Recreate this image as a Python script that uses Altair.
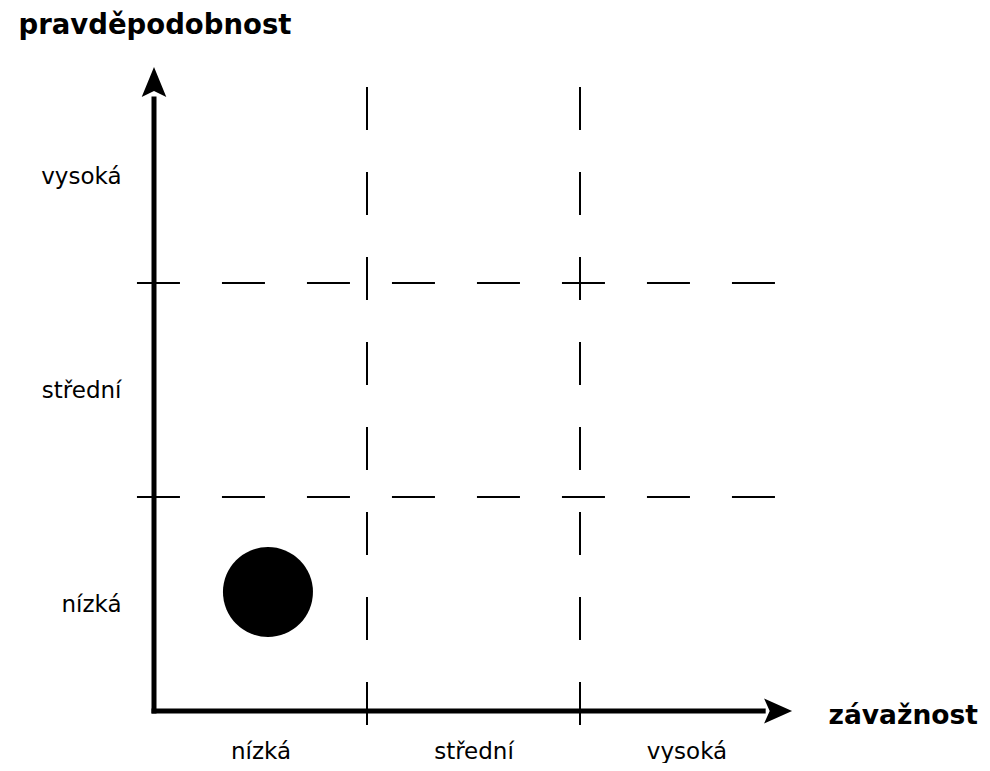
import altair as alt
import pandas as pd

# --- data -------------------------------------------------------------
levels = ["nízká", "střední", "vysoká"]          # category labels (both axes)
level_centers = [0.5, 1.5, 2.5]                   # category centres on the axes
boundaries = [1, 2]                               # borders between categories
risk_x = [0.535]                                  # závažnost of the assessed risk
risk_y = [0.556]                                  # pravděpodobnost of the assessed risk
x_title = "závažnost"
y_title = "pravděpodobnost"

FONT = "DejaVu Sans"
DOM = [0, 3]
xs = alt.Scale(domain=DOM, nice=False, zero=False)
ys = alt.Scale(domain=DOM, nice=False, zero=False)

label_expr = "[" + ",".join("'%s'" % l for l in levels) + "][floor(datum.value)]"

xa = alt.Axis(
    values=level_centers, labelExpr=label_expr, grid=False, ticks=False,
    tickSize=0, domain=False, labelFont=FONT, labelFontSize=23,
    labelColor="black", labelBaseline="top", labelPadding=29,
    title=x_title, titleFont=FONT, titleFontSize=26.5, titleFontWeight="bold",
    titleColor="black", titleAngle=0, titleAlign="left",
    titleBaseline="alphabetic", titleX=674, titleY=12)
ya = alt.Axis(
    values=level_centers, labelExpr=label_expr, grid=False, ticks=False,
    tickSize=0, domain=False, labelFont=FONT, labelFontSize=23,
    labelColor="black", labelAlign="right", labelBaseline="middle",
    labelPadding=33,
    title=y_title, titleFont=FONT, titleFontSize=27.5, titleFontWeight="bold",
    titleColor="black", titleAngle=0, titleAlign="left",
    titleBaseline="alphabetic", titleX=-136, titleY=-36)

bounds = pd.DataFrame({"b": boundaries})
risk = pd.DataFrame({"x": risk_x, "y": risk_y})
single = pd.DataFrame({"k": [0]})

# risk point
point = alt.Chart(risk).mark_point(
    shape="circle", filled=True, color="black", opacity=1, size=8100
).encode(
    x=alt.X("x:Q", scale=xs, axis=xa),
    y=alt.Y("y:Q", scale=ys, axis=ya),
)

# dashed borders between categories
vlines = alt.Chart(bounds).mark_rule(
    color="black", strokeWidth=2, strokeDash=[43, 42]
).encode(
    x=alt.X("b:Q", scale=xs, axis=xa),
    y=alt.datum(2.916, scale=ys, axis=ya),
    y2=alt.datum(-0.135),
)
hlines = alt.Chart(bounds).mark_rule(
    color="black", strokeWidth=2, strokeDash=[43, 42]
).encode(
    y=alt.Y("b:Q", scale=ys, axis=ya),
    x=alt.datum(-0.08, scale=xs, axis=xa),
    x2=alt.datum(2.92),
)

# axis arrows
yaxis_line = alt.Chart(single).mark_rule(
    color="black", strokeWidth=5, strokeCap="square"
).encode(
    x=alt.datum(0, scale=xs, axis=xa),
    y=alt.datum(0, scale=ys, axis=ya),
    y2=alt.datum(2.86),
)
xaxis_line = alt.Chart(single).mark_rule(
    color="black", strokeWidth=5, strokeCap="square"
).encode(
    y=alt.datum(0, scale=ys, axis=ya),
    x=alt.datum(0, scale=xs, axis=xa),
    x2=alt.datum(2.86),
)
up_head = alt.Chart(single).mark_point(
    shape="M0,-1 L0.82,1 L0,0.6 L-0.82,1 Z", filled=True, color="black",
    opacity=1, size=900
).encode(
    x=alt.datum(0, scale=xs, axis=xa),
    y=alt.datum(2.939, scale=ys, axis=ya),
)
right_head = alt.Chart(single).mark_point(
    shape="M1,0 L-1,0.9 L-0.6,0 L-1,-0.9 Z", filled=True, color="black",
    opacity=1, size=784
).encode(
    x=alt.datum(2.93, scale=xs, axis=xa),
    y=alt.datum(0, scale=ys, axis=ya),
)

chart = alt.layer(
    point, vlines, hlines, yaxis_line, xaxis_line, up_head, right_head
).properties(
    width=639, height=642,
    autosize=alt.AutoSizeParams(type="none"),
    padding={"left": 146, "top": 61, "right": 189, "bottom": 52},
    background="white",
).configure_view(stroke=None)

chart.save("out.html", embed_options={"renderer": "svg", "actions": False})
